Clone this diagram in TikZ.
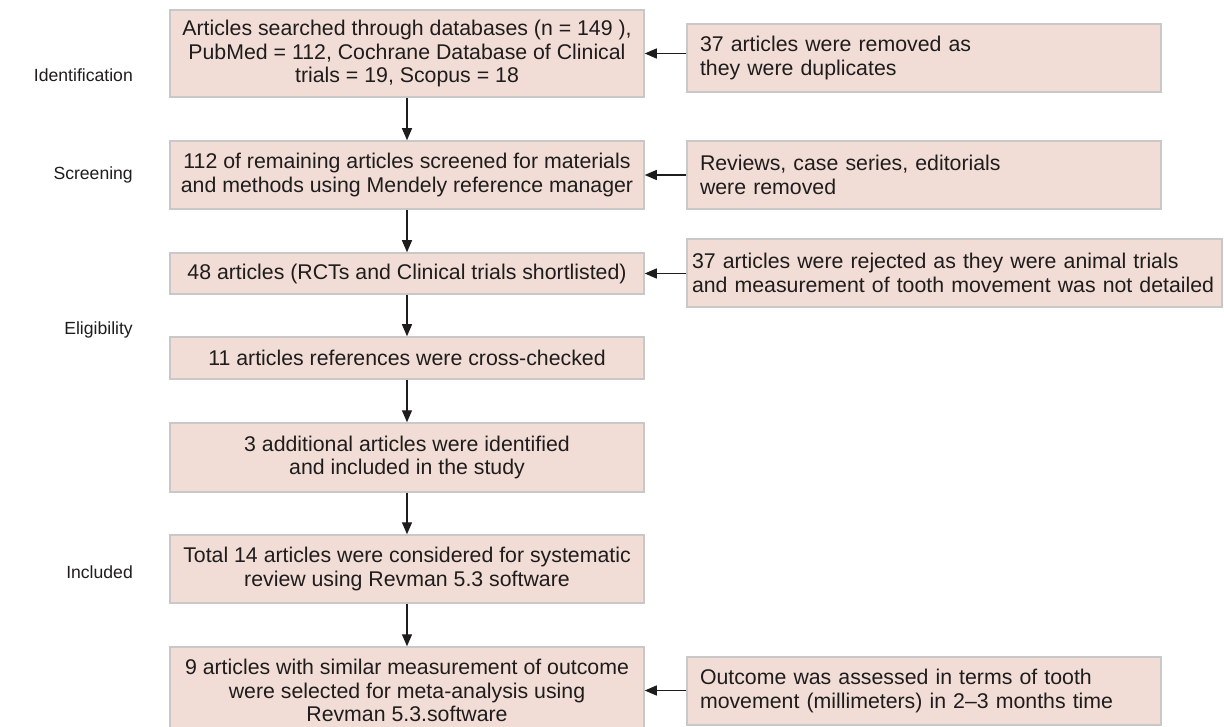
\documentclass[tikz,border=0pt]{standalone}
\usepackage{fontspec}
\setmainfont{Liberation Sans}
\usetikzlibrary{calc,positioning,arrows.meta}
\definecolor{boxfill}{RGB}{241,221,213}
\definecolor{boxline}{RGB}{200,200,200}
\definecolor{inktext}{RGB}{30,28,28}

\begin{document}
\begin{tikzpicture}[x=1pt,y=-1pt,
  stagebox/.style={draw=boxline,line width=1.5pt,fill=boxfill,text=inktext,align=center,
    minimum width=474pt,inner sep=2pt,font=\fontsize{21.3}{23.8}\selectfont},
  notebox/.style={stagebox,align=left,text width=448pt,inner xsep=13pt,minimum width=0pt,minimum height=68pt},
  phase/.style={anchor=east,inner sep=0pt,text=inktext,font=\fontsize{17.6}{21}\selectfont},
  flow/.style={draw=inktext,line width=1.3pt,-{Triangle[length=12pt,width=10pt]}}]
\useasboundingbox (0,0) rectangle (1224,727);
\clip (0,0) rectangle (1224,727);
% main column
\node[stagebox,minimum height=87pt] (search) at (407,53.5) {Articles searched through databases (n = 149 ),\\ PubMed = 112, Cochrane Database of Clinical\\ trials = 19, Scopus = 18};
\node[stagebox,minimum height=68pt] (screen) at (407,175) {112 of remaining articles screened for materials\\ and methods using Mendely reference manager};
\node[stagebox,minimum height=41pt] (short) at (407,273.5) {48 articles (RCTs and Clinical trials shortlisted)};
\node[stagebox,minimum height=42pt] (cross) at (407,358) {11 articles references were cross-checked};
\node[stagebox,minimum height=69pt] (extra) at (407,457.5) {3 additional articles were identified\\ and included in the study};
\node[stagebox,minimum height=68pt] (total) at (407,569) {Total 14 articles were considered for systematic\\ review using Revman 5.3 software};
\node[stagebox,minimum height=87pt] (meta) at (407,690.5) {9 articles with similar measurement of outcome\\ were selected for meta-analysis using\\ Revman 5.3.software};
% side notes
\node[notebox] (dup) at (924,58) {37 articles were removed as\\ they were duplicates};
\node[notebox] (review) at (924,175) {Reviews, case series, editorials\\ were removed};
\node[notebox,text width=525pt,inner xsep=5pt] (animal) at (954.5,273) {37 articles were rejected as they were animal trials\\ and measurement of tooth movement was not detailed};
\node[notebox] (outcome) at (924,691) {Outcome was assessed in terms of tooth\\ movement (millimeters) in 2--3 months time};
% phases
\node[phase] (ident) at (133,75) {Identification};
\node[phase] (scr) at (133,175) {Screening};
\node[phase] (elig) at (133,330) {Eligibility};
\node[phase] (incl) at (133,572) {Included};
% arrows
\foreach \a/\b in {search/screen,screen/short,short/cross,cross/extra,extra/total,total/meta}
  \draw[flow] (\a) -- (\b);
\draw[flow] (dup.west|-search.east) -- (search.east);
\draw[flow] (review) -- (screen);
\draw[flow] (animal.west|-short.east) -- (short.east);
\draw[flow] (outcome.west|-meta.east) -- (meta.east);
\end{tikzpicture}
\end{document}
